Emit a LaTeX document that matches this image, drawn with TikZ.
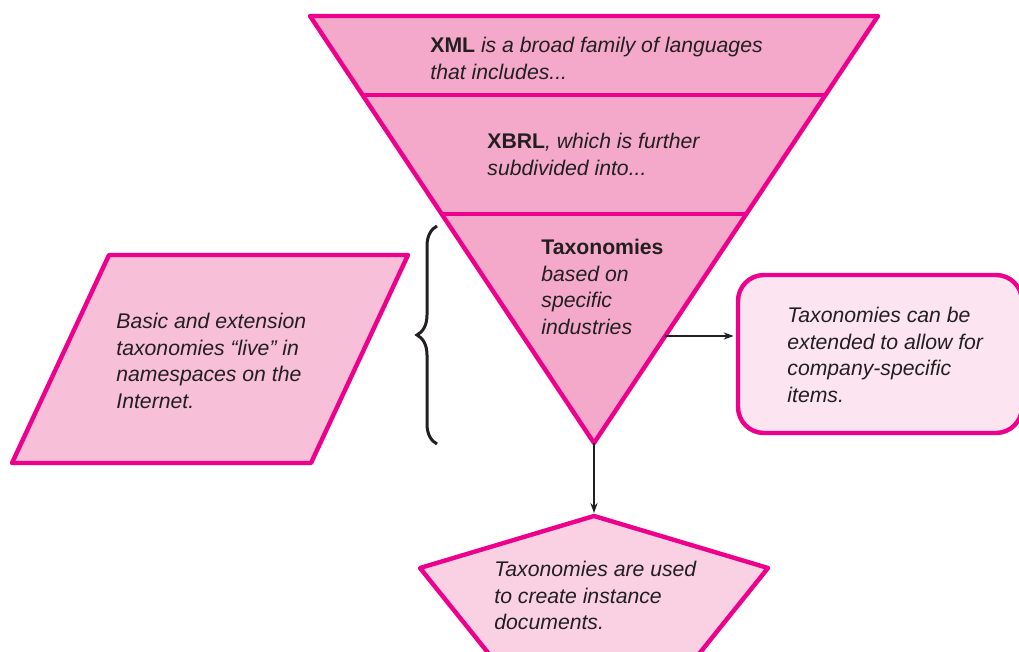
\documentclass[tikz,border=0pt]{standalone}
\usepackage{fontspec}
\setmainfont{Liberation Sans}
\usetikzlibrary{arrows.meta,decorations.pathreplacing,calc}
\definecolor{magentaline}{HTML}{EC008C}
\definecolor{funnelfill}{HTML}{F4A9CB}
\definecolor{paralfill}{HTML}{F7BFD8}
\definecolor{pentfill}{HTML}{F9D1E3}
\definecolor{boxfill}{HTML}{FCE5F0}
\definecolor{inktext}{HTML}{231F20}
\begin{document}
\begin{tikzpicture}[x=0.5pt,y=-0.5pt,
  shapeline/.style={draw=magentaline, line width=2.2pt, line join=round},
  caption/.style={anchor=north west, inner sep=0pt, align=left, text=inktext,
    font=\fontsize{10.6pt}{13.25pt}\selectfont},
  connector/.style={draw=inktext, line width=0.6pt, -{Stealth[length=5pt,width=3.6pt]}}
]
\useasboundingbox (0,0) rectangle (1019,652);
\begin{scope}
\clip (0,0) rectangle (1019,652);

% inverted funnel with its two dividers
\coordinate (tl) at (310,16);
\coordinate (tr) at (878,16);
\coordinate (apex) at (594,443);
\fill[funnelfill] (tl) -- (tr) -- (apex) -- cycle;
\draw[shapeline] ($(tl)!0.185!(apex)$) -- ($(tr)!0.185!(apex)$);
\draw[shapeline] ($(tl)!0.4637!(apex)$) -- ($(tr)!0.4637!(apex)$);
\draw[shapeline] (tl) -- (tr) -- (apex) -- cycle;
\coordinate (funnelR) at ($(tr)!0.7494!(apex)$);

% parallelogram
\draw[shapeline, fill=paralfill] (109,255) -- (408,255) -- (311,463) -- (12,463) -- cycle;

% rounded box on the right, running past the edge
\node (ext) [shapeline, fill=boxfill, rounded corners=13pt, minimum width=142pt,
  minimum height=79pt, inner sep=0pt] at (880,354) {};

% pentagon at the bottom
\coordinate (pentTop) at (594,516);
\draw[shapeline, fill=pentfill] (pentTop) -- (768,568) -- (662,700) -- (526,700) -- (420,568) -- cycle;

% brace
\draw[draw=inktext, line width=1.5pt, decorate, decoration={brace, amplitude=10pt}]
  (437,444) -- (437,226);

% connectors
\draw[connector, shorten >=1.1pt] (funnelR) -- (funnelR -| ext.west);
\draw[connector, shorten >=1.5pt] (apex) -- (pentTop);

% texts
\node (xml) [caption] at (430,37) {\textbf{XML} \textit{is a broad family of languages}\\\textit{that includes...}};
\node (xbrl) [caption] at (487,133) {\textbf{XBRL}\textit{, which is further}\\\textit{subdivided into...}};
\node (tax) [caption] at (541,239) {\textbf{Taxonomies}\\\textit{based on}\\\textit{specific}\\\textit{industries}};
\node (live) [caption] at (116,313) {\textit{Basic and extension}\\\textit{taxonomies “live” in}\\\textit{namespaces on the}\\\textit{Internet.}};
\node (exttext) [caption] at (787,307) {\textit{Taxonomies can be}\\\textit{extended to allow for}\\\textit{company-specific}\\\textit{items.}};
\node (inst) [caption] at (494,561) {\textit{Taxonomies are used}\\\textit{to create instance}\\\textit{documents.}};
\end{scope}
\end{tikzpicture}
\end{document}
